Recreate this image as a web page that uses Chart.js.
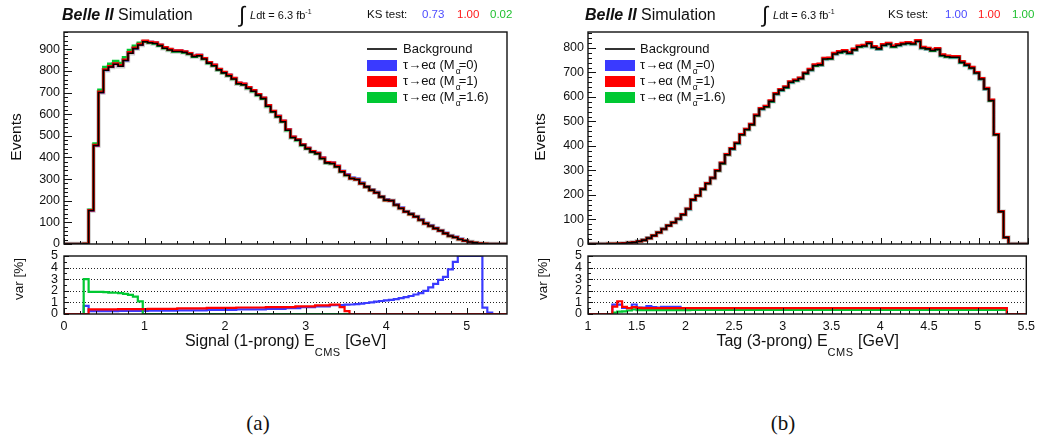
<!DOCTYPE html>
<html>
<head>
<meta charset="utf-8">
<title>E_CMS distributions: background vs τ→eα</title>
<script src="https://cdn.jsdelivr.net/npm/chart.js@4.4.1/dist/chart.umd.min.js"></script>
<style>
  html, body { margin: 0; padding: 0; background: #fff; }
  body { position: relative; width: 1040px; height: 441px; overflow: hidden;
         font-family: "Liberation Sans", Arial, Helvetica, sans-serif; color: #111; }
  .panel { position: absolute; top: 0; width: 520px; height: 441px; }
  .panel canvas { position: absolute; left: 0; }
  .t { position: absolute; white-space: nowrap; line-height: 1; }
  .hdr { font-size: 16px; }
  .int { font-size: 22px; }
  .lumi { font-size: 11px; }
  .lumi sup { font-size: 7px; vertical-align: 5px; line-height: 0; }
  .ks { font-size: 11.5px; }
  .leg { font-size: 13px; }
  .ma { display: inline-block; width: 4px; position: relative; top: 5px; left: 1px; font-size: 8.5px; }
  .xt { font-size: 16px; transform: translateX(-50%); }
  .xt .sub { font-size: 11px; position: relative; top: 10px; letter-spacing: 0.5px; }
  .yt { transform: translate(-50%, -50%) rotate(-90deg); }
  .cap { font-family: "Liberation Serif", "DejaVu Serif", serif; font-size: 21px; transform: translateX(-50%); }
</style>
</head>
<body>

<div class="panel" id="panelA" style="left:0">
  <canvas id="topA" width="520" height="262" style="top:0"></canvas>
  <canvas id="varA" width="520" height="120" style="top:240px"></canvas>
  <div class="t hdr" style="left:62px;top:7px"><b><i>Belle II</i></b> Simulation</div>
  <div class="t int" style="left:239px;top:4px">∫</div>
  <div class="t lumi" style="left:250px;top:10px"><i>L</i>dt = 6.3 fb<sup>-1</sup></div>
  <div class="t ks" style="left:367px;top:8.5px">KS test:</div>
  <div class="t yt" style="left:16px;top:137px;font-size:15.5px">Events</div>
  <div class="t yt" style="left:19px;top:279px;font-size:13.5px">var [%]</div>
  <div class="t xt" style="left:285.5px;top:333px">Signal (1-prong) E<span class="sub">CMS</span> [GeV]</div>
  <div class="t cap" style="left:258px;top:413px">(a)</div>
</div>

<div class="panel" id="panelB" style="left:520px">
  <canvas id="topB" width="520" height="262" style="top:0"></canvas>
  <canvas id="varB" width="520" height="120" style="top:240px"></canvas>
  <div class="t hdr" style="left:65px;top:7px"><b><i>Belle II</i></b> Simulation</div>
  <div class="t int" style="left:242px;top:4px">∫</div>
  <div class="t lumi" style="left:253px;top:10px"><i>L</i>dt = 6.3 fb<sup>-1</sup></div>
  <div class="t ks" style="left:368px;top:8.5px">KS test:</div>
  <div class="t yt" style="left:20px;top:137px;font-size:15.5px">Events</div>
  <div class="t yt" style="left:22.5px;top:279px;font-size:13.5px">var [%]</div>
  <div class="t xt" style="left:287.7px;top:333px">Tag (3-prong) E<span class="sub">CMS</span> [GeV]</div>
  <div class="t cap" style="left:263px;top:413px">(b)</div>
</div>

<script>
// ── Binning ─────────────────────────────────────────────────────────
const NBINS = 90;
const rangeSig = [0, 5.5];   // Signal (1-prong) E_CMS [GeV]
const rangeTag = [1, 5.5];   // Tag (3-prong) E_CMS [GeV]

// ── Signal side: events per bin ─────────────────────────────────────
const sigBkg = [
  0, 0, 0, 0, 1, 155, 455, 700, 803, 818,
  831, 822, 848, 882, 903, 920, 935, 930, 927, 917,
  905, 897, 890, 890, 886, 878, 866, 870, 855, 836,
  824, 805, 791, 778, 763, 741, 736, 720, 706, 688,
  672, 637, 611, 588, 565, 526, 492, 480, 457, 441,
  426, 418, 395, 375, 372, 357, 334, 318, 303, 298,
  280, 264, 249, 237, 218, 203, 200, 180, 165, 149,
  138, 126, 111, 95, 83, 72, 61, 49, 37, 31,
  22, 15, 9, 5, 2, 1, 0, 0, 0, 0
];
const sigM0 = [
  0, 0, 0, 0, 1, 155, 456, 702, 805, 820,
  833, 824, 850, 884, 905, 922, 937, 933, 930, 920,
  908, 900, 893, 893, 889, 881, 869, 873, 858, 839,
  827, 808, 794, 781, 766, 744, 739, 723, 709, 691,
  675, 640, 614, 591, 568, 529, 494, 482, 460, 444,
  429, 421, 398, 378, 375, 360, 337, 321, 306, 301,
  283, 267, 251, 240, 220, 205, 202, 182, 167, 151,
  140, 128, 113, 97, 85, 74, 63, 51, 38, 32,
  23, 16, 9, 5, 2, 1, 0, 0, 0, 0
];
const sigM1 = [
  0, 0, 0, 0, 1, 156, 457, 703, 806, 821,
  834, 826, 852, 886, 907, 924, 939, 934, 931, 921,
  909, 901, 894, 894, 890, 882, 870, 874, 859, 840,
  828, 809, 795, 782, 767, 745, 740, 724, 710, 692,
  676, 641, 615, 592, 569, 529, 495, 483, 460, 444,
  429, 421, 398, 378, 375, 360, 336, 319, 303, 298,
  280, 264, 249, 237, 218, 203, 200, 180, 165, 149,
  138, 126, 111, 95, 83, 72, 61, 49, 37, 31,
  22, 15, 9, 5, 2, 1, 0, 0, 0, 0
];
const sigM16 = [
  0, 0, 0, 0, 1, 158, 464, 713, 818, 833,
  846, 837, 863, 897, 916, 930, 935, 930, 927, 917,
  905, 897, 890, 890, 886, 878, 866, 870, 855, 836,
  824, 805, 791, 778, 763, 741, 736, 720, 706, 688,
  672, 637, 611, 588, 565, 526, 492, 480, 457, 441,
  426, 418, 395, 375, 372, 357, 334, 318, 303, 298,
  280, 264, 249, 237, 218, 203, 200, 180, 165, 149,
  138, 126, 111, 95, 83, 72, 61, 49, 37, 31,
  22, 15, 9, 5, 2, 1, 0, 0, 0, 0
];
// relative variation with respect to the background [%]
const sigVarM0 = [
  0, 0, 0, 0, 0.7, 0.24, 0.24, 0.24, 0.24, 0.24,
  0.24, 0.26, 0.26, 0.26, 0.26, 0.26, 0.26, 0.29, 0.29, 0.29,
  0.29, 0.29, 0.29, 0.32, 0.32, 0.32, 0.32, 0.32, 0.32, 0.36,
  0.36, 0.36, 0.36, 0.36, 0.36, 0.4, 0.4, 0.4, 0.4, 0.4,
  0.4, 0.44, 0.44, 0.44, 0.44, 0.5, 0.5, 0.5, 0.58, 0.58,
  0.58, 0.66, 0.66, 0.66, 0.76, 0.76, 0.76, 0.8, 0.82, 0.85,
  0.9, 0.95, 1.0, 1.06, 1.12, 1.18, 1.22, 1.28, 1.36, 1.45,
  1.55, 1.68, 1.8, 2.0, 2.3, 2.6, 2.95, 3.2, 3.85, 4.5,
  5, 5, 5, 5, 5, 0.55, 0.12, 0, 0, 0
];
const sigVarM1 = [
  0, 0, 0, 0, 0, 0.4, 0.4, 0.4, 0.4, 0.4,
  0.4, 0.42, 0.42, 0.42, 0.42, 0.42, 0.42, 0.45, 0.45, 0.45,
  0.45, 0.45, 0.45, 0.48, 0.48, 0.48, 0.48, 0.48, 0.48, 0.52,
  0.52, 0.52, 0.52, 0.52, 0.52, 0.56, 0.56, 0.56, 0.56, 0.56,
  0.56, 0.6, 0.6, 0.6, 0.6, 0.6, 0.6, 0.66, 0.66, 0.66,
  0.66, 0.74, 0.74, 0.74, 0.8, 0.82, 0.6, 0.25, 0, 0,
  0, 0, 0, 0, 0, 0, 0, 0, 0, 0,
  0, 0, 0, 0, 0, 0, 0, 0, 0, 0,
  0, 0, 0, 0, 0, 0, 0, 0, 0, 0
];
const sigVarM16 = [
  0, 0, 0, 0, 3.0, 1.9, 1.9, 1.9, 1.88, 1.85,
  1.83, 1.8, 1.74, 1.65, 1.5, 1.08, 0, 0, 0, 0,
  0, 0, 0, 0, 0, 0, 0, 0, 0, 0,
  0, 0, 0, 0, 0, 0, 0, 0, 0, 0,
  0, 0, 0, 0, 0, 0, 0, 0, 0, 0,
  0, 0, 0, 0, 0, 0, 0, 0, 0, 0,
  0, 0, 0, 0, 0, 0, 0, 0, 0, 0,
  0, 0, 0, 0, 0, 0, 0, 0, 0, 0,
  0, 0, 0, 0, 0, 0, 0, 0, 0, 0
];

// ── Tag side: events per bin ────────────────────────────────────────
const tagBkg = [
  0, 0, 0, 0, 1, 1, 2, 3, 5, 7,
  11, 16, 24, 34, 47, 61, 75, 88, 102, 120,
  143, 180, 197, 224, 247, 269, 299, 329, 364, 388,
  411, 446, 467, 487, 524, 551, 560, 582, 612, 628,
  639, 660, 667, 675, 696, 710, 728, 731, 755, 756,
  775, 782, 786, 778, 792, 805, 808, 819, 803, 796,
  811, 816, 805, 811, 816, 819, 816, 827, 800, 796,
  789, 794, 769, 764, 762, 762, 741, 730, 718, 698,
  673, 633, 585, 446, 132, 27, 0, 0, 0, 0
];
const tagM1 = [
  0, 0, 0, 0, 1, 1, 2, 3, 5, 7,
  11, 16, 24, 34, 47, 61, 75, 88, 103, 121,
  144, 181, 198, 225, 248, 270, 301, 331, 366, 390,
  413, 448, 469, 489, 527, 554, 563, 585, 615, 631,
  642, 663, 670, 678, 699, 714, 732, 735, 759, 760,
  779, 786, 790, 782, 796, 809, 812, 823, 807, 800,
  815, 820, 809, 815, 820, 823, 820, 831, 804, 800,
  793, 798, 773, 768, 766, 766, 745, 734, 722, 701,
  676, 636, 588, 448, 133, 27, 0, 0, 0, 0
];
const tagVarM0 = [
  0, 0, 0, 0, 0, 0.8, 0.8, 0.52, 0.5, 0.82,
  0.55, 0.55, 0.68, 0.6, 0.55, 0.62, 0.62, 0.62, 0.62, 0.48,
  0.48, 0.48, 0.48, 0.48, 0.48, 0.48, 0.48, 0.48, 0.48, 0.48,
  0.48, 0.48, 0.48, 0.48, 0.48, 0.48, 0.48, 0.48, 0.48, 0.48,
  0.48, 0.48, 0.48, 0.48, 0.48, 0.48, 0.48, 0.48, 0.48, 0.48,
  0.48, 0.48, 0.48, 0.48, 0.48, 0.48, 0.48, 0.48, 0.48, 0.48,
  0.48, 0.48, 0.48, 0.48, 0.48, 0.48, 0.48, 0.48, 0.48, 0.48,
  0.48, 0.48, 0.48, 0.48, 0.48, 0.48, 0.48, 0.48, 0.48, 0.48,
  0.48, 0.48, 0.48, 0.48, 0.48, 0.48, 0, 0, 0, 0
];
const tagVarM1 = [
  0, 0, 0, 0, 0, 0.63, 1.1, 0.62, 0.5, 0.6,
  0.52, 0.5, 0.5, 0.5, 0.5, 0.5, 0.5, 0.5, 0.5, 0.5,
  0.5, 0.5, 0.5, 0.5, 0.5, 0.5, 0.5, 0.5, 0.5, 0.5,
  0.5, 0.5, 0.5, 0.5, 0.5, 0.5, 0.5, 0.5, 0.5, 0.5,
  0.5, 0.5, 0.5, 0.5, 0.5, 0.5, 0.5, 0.5, 0.5, 0.5,
  0.5, 0.5, 0.5, 0.5, 0.5, 0.5, 0.5, 0.5, 0.5, 0.5,
  0.5, 0.5, 0.5, 0.5, 0.5, 0.5, 0.5, 0.5, 0.5, 0.5,
  0.5, 0.5, 0.5, 0.5, 0.5, 0.5, 0.5, 0.5, 0.5, 0.5,
  0.5, 0.5, 0.5, 0.5, 0.5, 0.5, 0, 0, 0, 0
];
const tagVarM16 = [
  0, 0, 0, 0, 0, 0.12, 0.2, 0.22, 0.3, 0.4,
  0.33, 0.33, 0.33, 0.33, 0.33, 0.33, 0.33, 0.33, 0.33, 0.33,
  0.33, 0.36, 0.36, 0.36, 0.36, 0.36, 0.36, 0.36, 0.36, 0.36,
  0.36, 0.36, 0.36, 0.36, 0.36, 0.36, 0.36, 0.36, 0.36, 0.36,
  0.36, 0.36, 0.36, 0.36, 0.36, 0.36, 0.36, 0.36, 0.36, 0.36,
  0.36, 0.36, 0.36, 0.36, 0.36, 0.36, 0.36, 0.36, 0.36, 0.36,
  0.36, 0.36, 0.36, 0.36, 0.36, 0.36, 0.36, 0.36, 0.36, 0.36,
  0.36, 0.36, 0.36, 0.36, 0.36, 0.36, 0.36, 0.36, 0.36, 0.36,
  0.36, 0.36, 0.36, 0.36, 0.36, 0.36, 0, 0, 0, 0
];

// KS test results, order: M=0, M=1, M=1.6
const ksSig = [0.73, 1.00, 0.02];
const ksTag = [1.00, 1.00, 1.00];

// legend entries for the three signal hypotheses
const massLabels = ['0', '1', '1.6'];

const eventsMaxSig = 980;
const eventsMaxTag = 865;
const varMax = 5;

// ── Styles ──────────────────────────────────────────────────────────
const BLUE = '#3a3aff', RED = '#ff0000', GREEN = '#00c832';
const HALO = 'rgba(140,140,140,0.45)';
const KS_COLORS = ['#4b4bff', '#ff1a1a', '#1fc02f'];
const tickFont = { family: '"Liberation Sans", Arial, sans-serif', size: 12.5 };

// ── Frame, inward tick marks and dotted grid (ROOT-style pad) ───────
function tickMarks(scale, o) {
  const out = [];
  for (let k = 0; ; k++) {
    const v = scale.min + k * o.minor;
    if (v > scale.max + 1e-9) break;
    out.push({ pixel: scale.getPixelForValue(v), len: k % o.per === 0 ? o.major : o.minorLen });
  }
  return out;
}

const rootFrame = {
  id: 'rootFrame',
  beforeDatasetsDraw(chart, args, opts) {
    if (!opts.dotted) return;
    const { ctx, chartArea: a, scales } = chart;
    ctx.save();
    ctx.strokeStyle = '#222';
    ctx.lineWidth = 1;
    ctx.setLineDash([1, 2]);
    opts.dotted.forEach(v => {
      const py = Math.round(scales.y.getPixelForValue(v)) + 0.5;
      ctx.beginPath();
      ctx.moveTo(a.left, py);
      ctx.lineTo(a.right, py);
      ctx.stroke();
    });
    ctx.restore();
  },
  afterDatasetsDraw(chart, args, opts) {
    const { ctx, chartArea: a, scales } = chart;
    ctx.save();
    ctx.strokeStyle = '#111';
    ctx.lineWidth = 1;
    ctx.beginPath();
    tickMarks(scales.x, opts.x).forEach(t => {
      const px = Math.round(t.pixel) + 0.5;
      ctx.moveTo(px, a.bottom);
      ctx.lineTo(px, a.bottom - t.len);
    });
    tickMarks(scales.y, opts.y).forEach(t => {
      const py = Math.round(t.pixel) + 0.5;
      ctx.moveTo(a.left, py);
      ctx.lineTo(a.left + t.len, py);
    });
    ctx.stroke();
    ctx.lineWidth = 1.4;
    ctx.strokeRect(a.left, a.top, a.width, a.height);
    ctx.restore();
  }
};

// ── Histogram helpers ───────────────────────────────────────────────
// one point per low bin edge plus the upper edge; 'before' draws the
// horizontal run first, so each bin's value spans its own interval
function histPoints(range, vals) {
  const w = (range[1] - range[0]) / NBINS;
  const pts = vals.map((v, i) => ({ x: range[0] + i * w, y: v }));
  pts.push({ x: range[1], y: vals[vals.length - 1] });
  return pts;
}

function histLine(range, vals, color, width) {
  return {
    data: histPoints(range, vals),
    borderColor: color,
    borderWidth: width,
    stepped: 'before',
    pointRadius: 0,
    fill: false,
    borderJoinStyle: 'miter',
    borderCapStyle: 'butt'
  };
}

function drawPad(canvasId, o) {
  return new Chart(document.getElementById(canvasId), {
    type: 'line',
    data: { datasets: o.datasets },
    options: {
      responsive: false,
      animation: false,
      devicePixelRatio: 1,
      events: [],
      layout: { padding: o.padding },
      plugins: { legend: { display: false }, tooltip: { enabled: false }, rootFrame: o.frame },
      scales: {
        x: {
          type: 'linear', min: o.xRange[0], max: o.xRange[1],
          display: o.xLabels,
          afterFit: s => { s.height = o.xHeight || 0; },
          grid: { display: false, drawTicks: false },
          border: { display: false },
          ticks: {
            stepSize: o.xStep, includeBounds: false, maxRotation: 0, autoSkip: false,
            padding: 5, color: '#111', font: tickFont,
            callback: v => String(+v.toFixed(1))
          }
        },
        y: {
          type: 'linear', min: 0, max: o.yMax,
          afterFit: s => { s.width = o.yWidth; },
          grid: { display: false, drawTicks: false },
          border: { display: false },
          ticks: {
            stepSize: o.yStep, includeBounds: false, autoSkip: false,
            padding: o.yPad, color: '#111', font: tickFont
          }
        }
      }
    },
    plugins: [rootFrame]
  });
}

// ── Signal (1-prong) pads ───────────────────────────────────────────
drawPad('topA', {
  datasets: [
    histLine(rangeSig, sigBkg, '#000', 1.6),
    histLine(rangeSig, sigM1, RED, 2.6),
    histLine(rangeSig, sigM16, GREEN, 2.6),
    histLine(rangeSig, sigM0, BLUE, 2.6),
    histLine(rangeSig, sigBkg, HALO, 4.4)
  ],
  padding: { top: 32, right: 13, bottom: 18, left: 0 },
  xRange: rangeSig, xLabels: false, xStep: 1,
  yMax: eventsMaxSig, yStep: 100, yWidth: 64, yPad: 4,
  frame: { x: { minor: 0.2, per: 5, major: 6, minorLen: 3 }, y: { minor: 20, per: 5, major: 8, minorLen: 4 } }
});

drawPad('varA', {
  datasets: [
    histLine(rangeSig, sigVarM1, RED, 2.2),
    histLine(rangeSig, sigVarM16, GREEN, 2.2),
    histLine(rangeSig, sigVarM0, BLUE, 2.2)
  ],
  padding: { top: 16, right: 13, bottom: 0, left: 0 },
  xRange: rangeSig, xLabels: true, xStep: 1, xHeight: 46,
  yMax: varMax, yStep: 1, yWidth: 64, yPad: 6,
  frame: {
    dotted: [1, 2, 3, 4],
    x: { minor: 0.2, per: 5, major: 6, minorLen: 3 }, y: { minor: 0.5, per: 2, major: 5, minorLen: 3 }
  }
});

// ── Tag (3-prong) pads; M=0 and M=1.6 coincide with the background here ──
drawPad('topB', {
  datasets: [
    histLine(rangeTag, tagBkg, '#000', 1.6),
    histLine(rangeTag, tagM1, RED, 2.6),
    histLine(rangeTag, tagBkg, GREEN, 2.6),
    histLine(rangeTag, tagBkg, BLUE, 2.6),
    histLine(rangeTag, tagBkg, HALO, 4.4)
  ],
  padding: { top: 32, right: 12, bottom: 18, left: 0 },
  xRange: rangeTag, xLabels: false, xStep: 0.5,
  yMax: eventsMaxTag, yStep: 100, yWidth: 68, yPad: 4,
  frame: { x: { minor: 0.1, per: 5, major: 6, minorLen: 3 }, y: { minor: 20, per: 5, major: 8, minorLen: 4 } }
});

drawPad('varB', {
  datasets: [
    histLine(rangeTag, tagVarM1, RED, 2.2),
    histLine(rangeTag, tagVarM16, GREEN, 2.2),
    histLine(rangeTag, tagVarM0, BLUE, 2.2)
  ],
  padding: { top: 16, right: 12, bottom: 0, left: 0 },
  xRange: rangeTag, xLabels: true, xStep: 0.5, xHeight: 46,
  yMax: varMax, yStep: 1, yWidth: 68, yPad: 6,
  frame: {
    dotted: [1, 2, 3, 4],
    x: { minor: 0.1, per: 5, major: 6, minorLen: 3 }, y: { minor: 0.5, per: 2, major: 5, minorLen: 3 }
  }
});

// ── Legends and KS values ───────────────────────────────────────────
function addDiv(parent, cls, style, html) {
  const d = document.createElement('div');
  d.className = cls;
  d.style.cssText = style;
  if (html) d.innerHTML = html;
  parent.appendChild(d);
  return d;
}

function addLegend(panelId, left, textLeft) {
  const p = document.getElementById(panelId);
  addDiv(p, 't', `left:${left}px;top:48.3px;width:30px;height:1.4px;background:#333`);
  addDiv(p, 't leg', `left:${textLeft}px;top:41.7px`, 'Background');
  const boxTops = [60, 76, 91.5];
  const textTops = [58.3, 74, 89.7];
  [BLUE, RED, GREEN].forEach((c, i) => {
    addDiv(p, 't', `left:${left}px;top:${boxTops[i]}px;width:30px;height:11px;background:${c}`);
    addDiv(p, 't leg', `left:${textLeft}px;top:${textTops[i]}px`,
      `τ→eα (M<span class="ma">α</span>=${massLabels[i]})`);
  });
}

function addKs(panelId, lefts, values) {
  const p = document.getElementById(panelId);
  values.forEach((v, i) => {
    addDiv(p, 't ks', `left:${lefts[i]}px;top:8.5px;color:${KS_COLORS[i]}`, v.toFixed(2));
  });
}

addLegend('panelA', 367, 403);
addLegend('panelB', 85, 120);
addKs('panelA', [422, 457, 490], ksSig);
addKs('panelB', [425, 458, 492], ksTag);
</script>
</body>
</html>
